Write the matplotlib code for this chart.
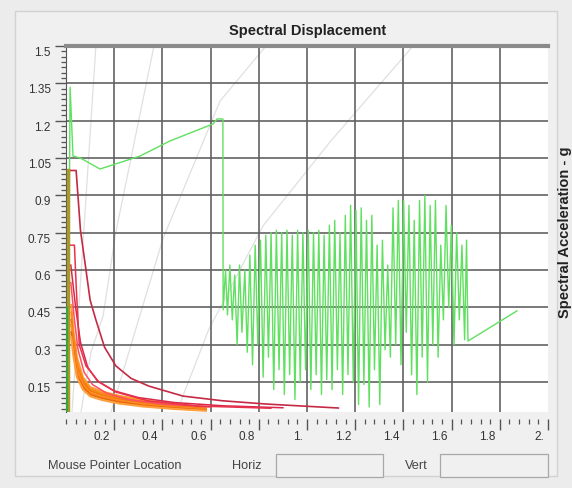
import matplotlib
matplotlib.use("Agg")
import matplotlib.pyplot as plt
from matplotlib.patches import Rectangle
from matplotlib.ticker import FixedLocator, MultipleLocator, AutoMinorLocator
from matplotlib.transforms import ScaledTranslation

plt.rcParams['font.family'] = ['Liberation Sans', 'DejaVu Sans']

# ---------------- data ----------------
title = "Spectral Displacement"
ylabel = "Spectral Acceleration - g"
x_ticks = [0.2, 0.4, 0.6, 0.8, 1.0, 1.2, 1.4, 1.6, 1.8, 2.0]
x_tick_labels = ["0.2", "0.4", "0.6", "0.8", "1.", "1.2", "1.4", "1.6", "1.8", "2."]
y_ticks = [0.15, 0.3, 0.45, 0.6, 0.75, 0.9, 1.05, 1.2, 1.35, 1.5]
y_tick_labels = ["0.15", "0.3", "0.45", "0.6", "0.75", "0.9", "1.05", "1.2", "1.35", "1.5"]

# faint reference lines
ref1_x = [0.025, 0.124]
ref1_y = [0.03, 1.50]
ref2_x = [0.062, 0.104, 0.154, 0.207, 0.365]
ref2_y = [0.03, 0.271, 0.416, 0.753, 1.50]
ref3_x = [0.187, 0.261, 0.402, 0.639, 0.830]
ref3_y = [0.03, 0.271, 0.725, 1.279, 1.50]
ref4_x = [0.469, 0.593, 0.817, 1.10, 1.44]
ref4_y = [0.054, 0.363, 0.777, 1.12, 1.50]

# capacity (green) curve
green_x = [0.008, 0.017, 0.029, 0.06, 0.141, 0.307, 0.43, 0.61, 0.627, 0.651, 0.652,
           0.662, 0.670, 0.680, 0.690, 0.700, 0.710, 0.720, 0.730, 0.742, 0.752,
           0.763, 0.774, 0.785, 0.796, 0.807, 0.818, 0.829, 0.840, 0.851, 0.862,
           0.873, 0.884, 0.895, 0.906, 0.917, 0.928, 0.939, 0.950, 0.961, 0.972,
           0.983, 0.994, 1.005, 1.016, 1.027, 1.038, 1.049, 1.060, 1.071, 1.082,
           1.093, 1.104, 1.115, 1.126, 1.137, 1.148, 1.159, 1.170, 1.181, 1.192,
           1.203, 1.214, 1.225, 1.236, 1.247, 1.258, 1.269, 1.280, 1.291, 1.302,
           1.313, 1.324, 1.335, 1.346, 1.357, 1.368, 1.379, 1.390, 1.401, 1.412,
           1.423, 1.434, 1.445, 1.456, 1.467, 1.478, 1.489, 1.500, 1.511, 1.522,
           1.533, 1.544, 1.555, 1.566, 1.577, 1.588, 1.599, 1.610, 1.621, 1.632,
           1.643, 1.654, 1.662, 1.668, 1.871]
green_y = [0.03, 1.335, 1.058, 1.05, 1.006, 1.058, 1.118, 1.187, 1.207, 1.207, 0.44,
           0.60, 0.42, 0.62, 0.40, 0.58, 0.30, 0.62, 0.35, 0.60, 0.27,
           0.66, 0.22, 0.70, 0.30, 0.72, 0.17, 0.74, 0.25, 0.75, 0.12,
           0.76, 0.20, 0.75, 0.10, 0.76, 0.18, 0.74, 0.08, 0.76, 0.15,
           0.75, 0.20, 0.76, 0.12, 0.75, 0.18, 0.76, 0.10, 0.74, 0.16,
           0.78, 0.12, 0.80, 0.20, 0.75, 0.10, 0.82, 0.18, 0.86, 0.15,
           0.84, 0.06, 0.85, 0.14, 0.80, 0.05, 0.82, 0.20, 0.70, 0.06,
           0.72, 0.28, 0.62, 0.25, 0.85, 0.30, 0.88, 0.22, 0.88, 0.35,
           0.86, 0.18, 0.80, 0.10, 0.88, 0.25, 0.90, 0.15, 0.86, 0.30,
           0.88, 0.25, 0.70, 0.40, 0.86, 0.45, 0.78, 0.30, 0.75, 0.40,
           0.70, 0.32, 0.72, 0.315, 0.436]

# demand (red) curves
red1_x = [0.017, 0.042, 0.06, 0.083, 0.10, 0.124, 0.16, 0.207, 0.27, 0.344, 0.485, 0.65, 0.83, 1.13]
red1_y = [1.0, 1.0, 0.76, 0.60, 0.48, 0.40, 0.29, 0.215, 0.165, 0.134, 0.094, 0.075, 0.062, 0.046]
red2_x = [0.012, 0.035, 0.042, 0.055, 0.083, 0.137, 0.207, 0.344, 0.55, 0.85]
red2_y = [0.70, 0.70, 0.54, 0.30, 0.215, 0.15, 0.11, 0.074, 0.054, 0.045]
red3_x = [0.02, 0.04, 0.06, 0.09, 0.13, 0.20, 0.30, 0.45, 0.65, 0.90]
red3_y = [0.62, 0.45, 0.31, 0.21, 0.155, 0.115, 0.088, 0.068, 0.055, 0.047]
red4_x = [0.02, 0.035, 0.05, 0.075, 0.11, 0.17, 0.26, 0.40, 0.60]
red4_y = [0.55, 0.40, 0.28, 0.19, 0.14, 0.105, 0.08, 0.062, 0.05]

# orange band of demand curves
orange_x = [0.022, 0.03, 0.045, 0.07, 0.10, 0.15, 0.22, 0.32, 0.45, 0.58]
orange1_y = [0.46, 0.36, 0.25, 0.17, 0.13, 0.112, 0.095, 0.078, 0.062, 0.050]
orange2_y = [0.43, 0.34, 0.23, 0.16, 0.122, 0.105, 0.088, 0.072, 0.057, 0.046]
orange3_y = [0.40, 0.32, 0.21, 0.15, 0.115, 0.098, 0.082, 0.066, 0.053, 0.043]
orange4_y = [0.38, 0.30, 0.20, 0.14, 0.108, 0.092, 0.076, 0.061, 0.049, 0.040]
orange5_y = [0.35, 0.28, 0.18, 0.13, 0.100, 0.085, 0.070, 0.056, 0.045, 0.037]
orange6_y = [0.33, 0.26, 0.17, 0.12, 0.093, 0.078, 0.064, 0.052, 0.042, 0.035]

edge_olive_x = [0.008, 0.008]
edge_olive_y = [0.03, 1.0]
edge_green_x = [0.003, 0.003]
edge_green_y = [0.03, 0.45]

# ---------------- figure ----------------
W, H = 572, 489
fig = plt.figure(figsize=(W / 100, H / 100), dpi=100, facecolor='#ececec')

def px(x0, y0, x1, y1):
    return [x0 / W, 1 - y1 / H, (x1 - x0) / W, (y1 - y0) / H]

# outer panel
b = px(15, 12, 557, 477)
fig.patches.append(Rectangle((b[0], b[1]), b[2], b[3], transform=fig.transFigure,
                             facecolor='#f0f0f0', edgecolor='#d2d2d2', lw=1.0, zorder=-5))

ax = fig.add_axes(px(66, 47, 548, 413))
ax.set_zorder(3)
ax.set_facecolor('white')

# faint reference lines
for rx, ry in [(ref1_x, ref1_y), (ref2_x, ref2_y), (ref3_x, ref3_y), (ref4_x, ref4_y)]:
    ax.plot(rx, ry, color='#e0e0e0', lw=0.9, zorder=1)

# grid
for xv in x_ticks[:-1]:
    ax.axvline(xv, color='#626262', lw=1.2, zorder=2)
for yv in y_ticks[:-1]:
    ax.axhline(yv, color='#626262', lw=1.2, zorder=2)

# curves
ax.plot(green_x, green_y, color='#5fe05f', lw=1.0, zorder=4)

orange_sets = [orange1_y, orange2_y, orange3_y, orange4_y, orange5_y, orange6_y]
orange_cols = ['#ff9a30', '#ff8a1a', '#f07a10', '#ff8c20', '#e86a0a', '#ffa040']
for oy, oc in zip(orange_sets, orange_cols):
    ax.plot(orange_x, oy, color=oc, lw=1.5, zorder=5)

ax.plot(red4_x, red4_y, color='#ff4d62', lw=1.1, zorder=6)
ax.plot(red3_x, red3_y, color='#d8284a', lw=1.1, zorder=6)
ax.plot(red2_x, red2_y, color='#e8324a', lw=1.1, zorder=6)
ax.plot(red1_x, red1_y, color='#c42a44', lw=1.2, zorder=6)

ax.plot(edge_olive_x, edge_olive_y, color='#a89a28', lw=2.5, zorder=7)
ax.plot(edge_green_x, edge_green_y, color='#3aa53a', lw=1.5, zorder=7)

ax.set_xlim(0, 2.0)
ax.set_ylim(0.03, 1.5)

# axes styling
for s in ['right', 'bottom']:
    ax.spines[s].set_visible(False)
ax.spines['top'].set_color('#8a8a8a')
ax.spines['top'].set_linewidth(3)
ax.spines['left'].set_color('#555555')
ax.spines['left'].set_linewidth(0.8)
ax.spines['bottom'].set_position(('outward', 5))

ax.xaxis.set_major_locator(FixedLocator(x_ticks))
ax.set_xticklabels(x_tick_labels)
ax.xaxis.set_minor_locator(MultipleLocator(0.04))
ax.yaxis.set_major_locator(FixedLocator(y_ticks))
ax.set_yticklabels(y_tick_labels)
ax.yaxis.set_minor_locator(AutoMinorLocator(7))

ax.tick_params(axis='both', which='major', direction='out', length=8, width=1.0,
               color='#555555', labelsize=8.5, labelcolor='#333333')
ax.tick_params(axis='both', which='minor', direction='out', length=3.5, width=0.9,
               color='#555555')
ax.tick_params(axis='x', which='major', pad=0)
ax.tick_params(axis='y', which='major', pad=3)
xoff = ScaledTranslation(-0.04, 0, fig.dpi_scale_trans)
for lab in ax.get_xticklabels():
    lab.set_horizontalalignment('right')
    lab.set_transform(lab.get_transform() + xoff)
for lab in ax.get_yticklabels():
    lab.set_verticalalignment('top')

# title and labels
fig.text(308 / W, 1 - 31 / H, title, ha='center', va='center', fontsize=10.5,
         fontweight='bold', color='#222222')
fig.text(565 / W, 1 - 232 / H, ylabel, ha='center', va='center', rotation=90,
         fontsize=10.5, fontweight='bold', color='#222222')

# bottom "mouse pointer" strip
fig.text(115 / W, 1 - 466 / H, "Mouse Pointer Location", ha='center', va='center',
         fontsize=9.2, color='#444444')
fig.text(247 / W, 1 - 466 / H, "Horiz", ha='center', va='center', fontsize=9.2, color='#444444')
fig.text(416 / W, 1 - 466 / H, "Vert", ha='center', va='center', fontsize=9.2, color='#444444')
for (x0, x1) in [(276, 383), (440, 548)]:
    r = px(x0, 455, x1, 478)
    fig.patches.append(Rectangle((r[0], r[1]), r[2], r[3], transform=fig.transFigure,
                                 facecolor='#f0f0f0', edgecolor='#a8a8a8', lw=0.9, zorder=1))

fig.savefig("out.png", dpi=100, facecolor=fig.get_facecolor())
